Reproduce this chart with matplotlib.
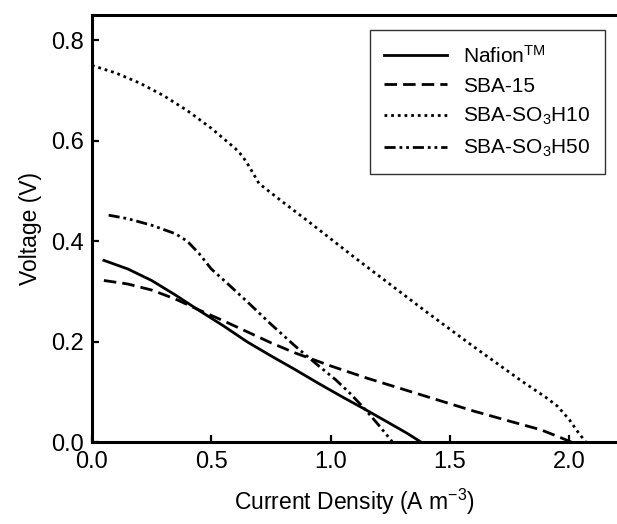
import matplotlib as mpl
mpl.use('Agg')
import matplotlib.pyplot as plt

plt.rcParams['font.family'] = ['Liberation Sans', 'DejaVu Sans']
plt.rcParams['mathtext.default'] = 'regular'

# polarisation curves
nafion_x = [0.05, 0.15, 0.25, 0.35, 0.45, 0.55, 0.65, 0.75, 0.85, 0.95, 1.05, 1.15, 1.25, 1.32, 1.38]
nafion_y = [0.362, 0.345, 0.322, 0.293, 0.262, 0.232, 0.200, 0.172, 0.145, 0.117, 0.090, 0.064, 0.037, 0.018, 0.0]

sba15_x = [0.05, 0.15, 0.25, 0.35, 0.45, 0.55, 0.65, 0.75, 0.85, 1.0, 1.15, 1.3, 1.45, 1.6, 1.75, 1.88, 1.96, 2.01]
sba15_y = [0.322, 0.315, 0.303, 0.285, 0.263, 0.242, 0.220, 0.198, 0.178, 0.152, 0.128, 0.106, 0.084, 0.062, 0.042, 0.025, 0.010, 0.0]

so3h10_x = [0.0, 0.1, 0.2, 0.3, 0.4, 0.5, 0.6, 0.63, 0.66, 0.7, 0.8, 0.9, 1.0, 1.1, 1.2, 1.3, 1.4,
            1.5, 1.6, 1.7, 1.8, 1.9, 1.95, 2.0, 2.04, 2.07]
so3h10_y = [0.750, 0.735, 0.715, 0.690, 0.660, 0.625, 0.585, 0.570, 0.548, 0.515, 0.478, 0.442, 0.405,
            0.368, 0.332, 0.296, 0.260, 0.225, 0.190, 0.156, 0.122, 0.090, 0.072, 0.045, 0.018, 0.0]

so3h50_x = [0.07, 0.15, 0.25, 0.35, 0.40, 0.45, 0.50, 0.57, 0.65, 0.75, 0.85, 0.95, 1.02, 1.08, 1.14, 1.20, 1.26]
so3h50_y = [0.452, 0.445, 0.432, 0.415, 0.400, 0.375, 0.345, 0.315, 0.280, 0.235, 0.192, 0.152, 0.125, 0.098, 0.068, 0.035, 0.0]

labels = ['Nafion$^{TM}$', 'SBA-15', 'SBA-SO$_3$H10', 'SBA-SO$_3$H50']

fig = plt.figure(figsize=(6.17, 5.24), dpi=100)
ax = fig.add_axes([0.149, 0.156, 0.851, 0.815])

ax.plot(nafion_x, nafion_y, color='black', lw=2.0, ls='-', label=labels[0])
ax.plot(sba15_x, sba15_y, color='black', lw=2.0, ls=(0, (4.5, 2.2)), label=labels[1])
ax.plot(so3h10_x, so3h10_y, color='black', lw=2.0, ls=(0, (1, 1.4)), label=labels[2])
ax.plot(so3h50_x, so3h50_y, color='black', lw=2.0, ls=(0, (4, 1.4, 1, 1.4, 1, 1.4)), label=labels[3])

ax.set_xlim(0, 2.2)
ax.set_ylim(0, 0.85)
ax.set_xticks([0.0, 0.5, 1.0, 1.5, 2.0])
ax.set_yticks([0.0, 0.2, 0.4, 0.6, 0.8])
ax.xaxis.set_major_formatter(mpl.ticker.FormatStrFormatter('%.1f'))
ax.yaxis.set_major_formatter(mpl.ticker.FormatStrFormatter('%.1f'))
ax.tick_params(direction='in', length=5, width=1.6, labelsize=17, pad=6)
ax.spines['right'].set_visible(False)
for side in ['left', 'bottom', 'top']:
    ax.spines[side].set_linewidth(2.2)

ax.set_xlabel('Current Density (A m$^{-3}$)', fontsize=16.5, labelpad=10)
ax.set_ylabel('Voltage (V)', fontsize=16.5, labelpad=6)

leg = ax.legend(loc='upper right', bbox_to_anchor=(0.981, 0.943), bbox_transform=fig.transFigure,
                fontsize=15, frameon=True, fancybox=False, handlelength=3.0, labelspacing=0.5,
                borderpad=0.7, handletextpad=0.8, borderaxespad=0)
leg.get_frame().set_edgecolor('black')
leg.get_frame().set_linewidth(1.0)

plt.savefig('out.png', dpi=100)
